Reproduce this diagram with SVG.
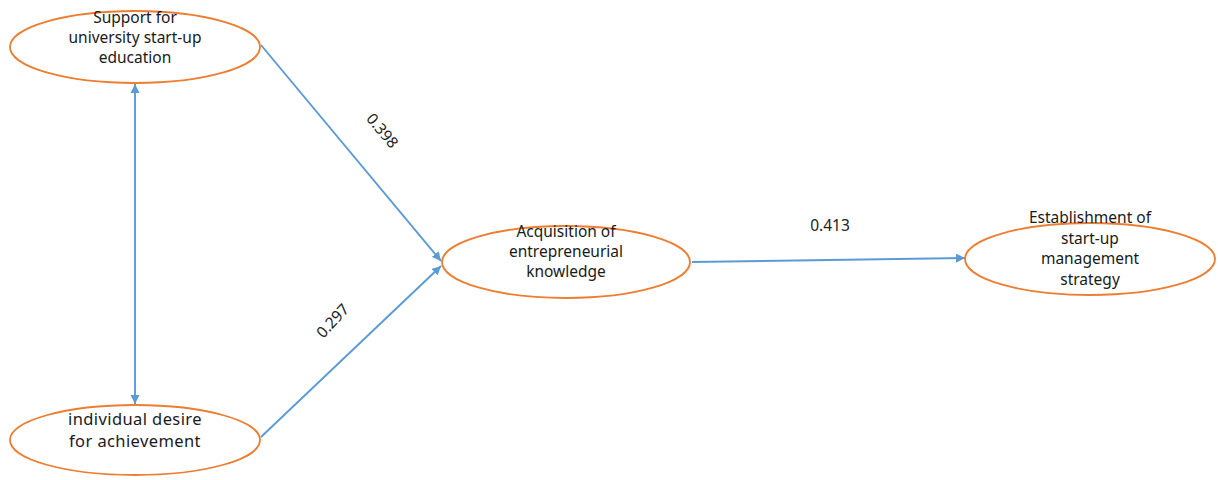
<svg xmlns="http://www.w3.org/2000/svg" width="1218" height="480" viewBox="0 0 1218 480">
<style>
.node ellipse{fill:#fff;stroke:#ED7D31;stroke-width:1.8}
.t{font-family:"Noto Sans","Noto Sans CJK KR",sans-serif;font-size:15.5px;fill:#1a1a1a;text-anchor:middle}
.tb{font-size:16.5px;letter-spacing:0.4px}
.conn line{stroke:#5B9BD5;stroke-width:1.9;fill:none}
.lbl{font-family:"Noto Sans","Noto Sans CJK KR",sans-serif;font-size:15.5px;fill:#222;text-anchor:middle}
</style>
<defs>
<marker id="ah" viewBox="0 0 10 10" refX="10" refY="5" markerWidth="9" markerHeight="9" markerUnits="userSpaceOnUse" orient="auto-start-reverse">
<path d="M0,0 L10,5 L0,10 z" fill="#5B9BD5"/>
</marker>
</defs>
<rect width="1218" height="480" fill="#fff"/>
<g id="connectors" class="conn">
<line x1="135" y1="84" x2="135" y2="404" marker-start="url(#ah)" marker-end="url(#ah)"/>
<line x1="261" y1="45" x2="441" y2="261" marker-end="url(#ah)"/>
<line x1="261" y1="437" x2="441" y2="266" marker-end="url(#ah)"/>
<line x1="692" y1="262" x2="965" y2="258" marker-end="url(#ah)"/>
</g>
<g id="labels">
<text class="lbl" transform="translate(382,131) rotate(50)" dy="5">0.398</text>
<text class="lbl" transform="translate(333,321) rotate(-47)" dy="5">0.297</text>
<text class="lbl" x="830" y="231">0.413</text>
</g>
<g id="n1" class="node">
<ellipse cx="135" cy="47" rx="125" ry="36"/>
<text class="t" x="135" y="23">Support for</text>
<text class="t" x="135" y="43">university start-up</text>
<text class="t" x="135" y="63">education</text>
</g>
<g id="n2" class="node">
<ellipse cx="135" cy="440" rx="125" ry="35"/>
<text class="t tb" x="135" y="425">individual desire</text>
<text class="t tb" x="135" y="447">for achievement</text>
</g>
<g id="n3" class="node">
<ellipse cx="566" cy="262" rx="124" ry="36"/>
<text class="t" x="566" y="237">Acquisition of</text>
<text class="t" x="566" y="257">entrepreneurial</text>
<text class="t" x="566" y="277">knowledge</text>
</g>
<g id="n4" class="node">
<ellipse cx="1090" cy="259" rx="125" ry="36"/>
<text class="t" x="1090" y="223">Establishment of</text>
<text class="t" x="1090" y="244">start-up</text>
<text class="t" x="1090" y="264">management</text>
<text class="t" x="1090" y="285">strategy</text>
</g>
</svg>
